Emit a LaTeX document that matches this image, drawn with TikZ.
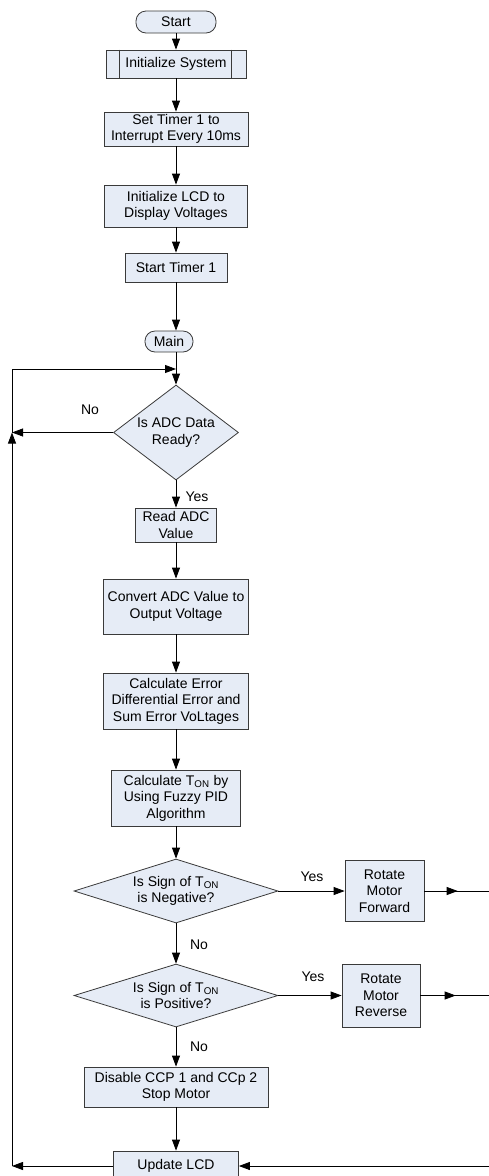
\documentclass[tikz,border=0pt]{standalone}
\usepackage{fontspec}
\setmainfont{Liberation Sans}
\usetikzlibrary{shapes.geometric,arrows.meta,decorations.markings}
\definecolor{boxfill}{HTML}{E6ECF6}
\definecolor{boxline}{HTML}{3A3A3A}
\begin{document}
\begin{tikzpicture}[x=1pt,y=-1pt,
    font=\fontsize{14}{16.5}\selectfont,
    >={Triangle[length=11pt,width=8pt]},
    every node/.style={align=center,inner sep=1pt},
    box/.style={draw=boxline,fill=boxfill,line width=0.8pt},
    term/.style={box,rectangle,rounded corners=10pt},
    proc/.style={box,rectangle},
    dec/.style={box,diamond,inner sep=0pt},
    midarrow/.style={postaction={decorate},
      decoration={markings,mark=at position 0.5 with {\arrow{>}}}}]
      \useasboundingbox (0,0) rectangle (489,1176);
      \draw
        (176,22) node[term,minimum width=80pt,minimum height=22pt] (start){Start}
        (176,64) node[proc,minimum width=140pt,minimum height=28pt] (init){Initialize System}
        (176,129) node[proc,minimum width=144pt,minimum height=34pt] (timer){Set Timer 1 to\\Interrupt Every 10ms}
        (176,206) node[proc,minimum width=143pt,minimum height=42pt] (lcd){Initialize LCD to\\Display Voltages}
        (176,267.5) node[proc,minimum width=102pt,minimum height=29pt] (st1){Start Timer 1}
        (169,341.5) node[term,minimum width=48pt,minimum height=21pt] (main){Main}
        (176,432.5) node[dec,aspect=1.3,minimum width=125pt,minimum height=95pt] (dia1){Is ADC Data\\Ready?}
        (176,525) node[proc,minimum width=81pt,minimum height=34pt] (read){Read ADC\\Value}
        (176,606.5) node[proc,minimum width=145pt,minimum height=55pt] (conv){Convert ADC Value to\\Output Voltage}
        (176,701) node[proc,minimum width=145pt,minimum height=56pt] (err){Calculate Error\\Differential Error and\\Sum Error VoLtages}
        (176,798) node[proc,minimum width=129pt,minimum height=56pt] (ton){Calculate T\textsubscript{ON} by\\Using Fuzzy PID\\Algorithm}
        (176,891) node[dec,aspect=3.2,minimum width=204pt,minimum height=64pt] (dia2){Is Sign of T\textsubscript{ON}\\is Negative?}
        (384.5,891) node[proc,minimum width=79pt,minimum height=61pt] (fwd){Rotate\\Motor\\Forward}
        (176,995.5) node[dec,aspect=3.2,minimum width=204pt,minimum height=63pt] (dia3){Is Sign of T\textsubscript{ON}\\is Positive?}
        (381,995.5) node[proc,minimum width=78pt,minimum height=63pt] (rev){Rotate\\Motor\\Reverse}
        (176,1087) node[proc,minimum width=184pt,minimum height=40pt] (dis){Disable CCP 1 and CCp 2\\Stop Motor}
        (176,1166) node[proc,minimum width=125pt,minimum height=30pt] (upd){Update LCD}
        (90,410) node (no1){No}
        (197,497) node (yes1){Yes}
        (312,877) node (yes2){Yes}
        (199,945) node (no2){No}
        (313,977) node (yes3){Yes}
        (199,1047) node (no3){No};
      \draw[boxline,line width=0.8pt]
        ([xshift=14pt]init.north west) -- ([xshift=14pt]init.south west)
        ([xshift=-15pt]init.north east) -- ([xshift=-15pt]init.south east);
      \coordinate (lp) at (12,369);
      \coordinate (jn) at (dia1.west -| lp);
      \coordinate (rgt) at (491,1166);
      \begin{scope}[->,line width=0.8pt]
        \draw (start) to (init);
        \draw (init) to (timer);
        \draw (timer) to (lcd);
        \draw (lcd) to (st1);
        \draw (st1.south) to (st1.south |- main.north);
        \draw (main.south -| dia1.north) to (dia1.north);
        \draw (dia1.west) to (jn);
        \draw (jn) -- (lp) -- (lp -| dia1.north);
        \draw (dia1) to (read);
        \draw (read) to (conv);
        \draw (conv) to (err);
        \draw (err) to (ton);
        \draw (ton) to (dia2);
        \draw (dia2) to (fwd);
        \draw (dia2) to (dia3);
        \draw (dia3) to (rev);
        \draw (dia3) to (dis);
        \draw (dis) to (upd);
        \draw (upd.west) to (upd.west -| lp);
        \draw (upd.west -| lp) to (jn);
        \draw (rgt) to (upd.east);
      \end{scope}
      \begin{scope}[-,line width=0.8pt]
        \draw[midarrow] (fwd.east) to (fwd.east -| rgt);
        \draw[midarrow] (rev.east) to (rev.east -| rgt);
        \draw (fwd.east -| rgt) to (rgt);
      \end{scope}
    \end{tikzpicture}
\end{document}
